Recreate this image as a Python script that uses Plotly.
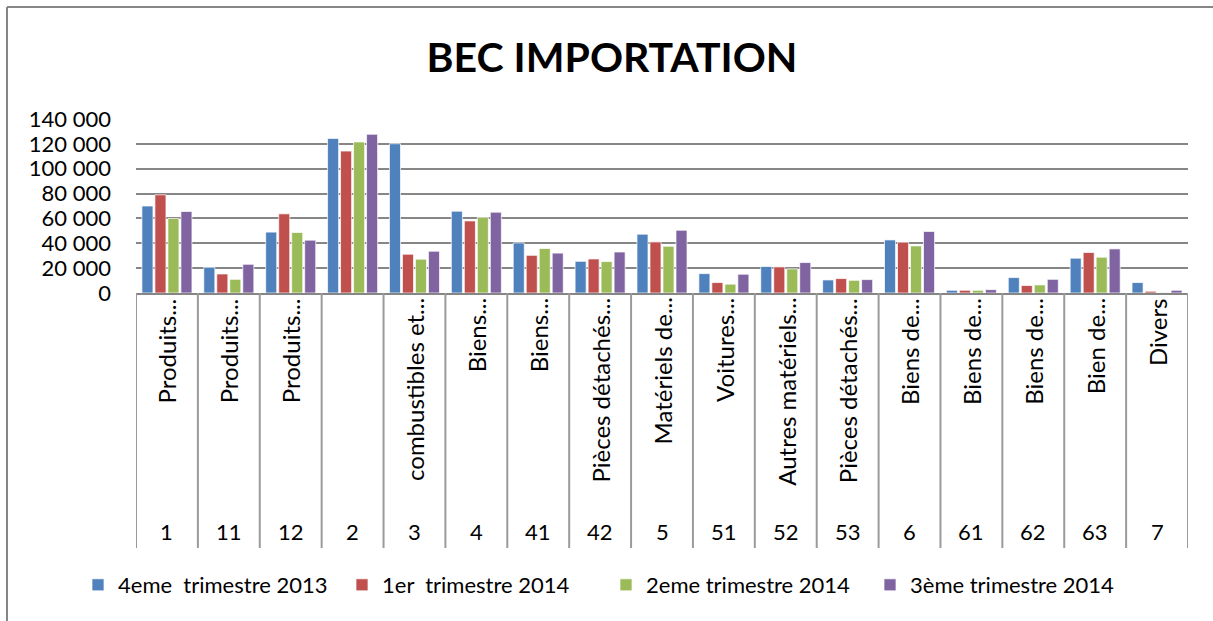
import plotly.graph_objects as go

codes = ["1", "11", "12", "2", "3", "4", "41", "42", "5", "51", "52", "53", "6", "61", "62", "63", "7"]
names = ["Produits...", "Produits...", "Produits...", "", "combustibles et...", "Biens...", "Biens...",
         "Pièces détachés...", "Matériels de...", "Voitures...", "Autres matériels...",
         "Pièces détachés...", "Biens de...", "Biens de...", "Biens de...", "Bien de...", "Divers"]

series_names = ["4eme  trimestre 2013", "1er  trimestre 2014", "2eme trimestre 2014", "3ème trimestre 2014"]
q4_2013 = [70000, 20700, 49000, 124400, 120100, 65800, 40300, 25500, 47300, 15600, 21300, 10500, 42700, 2200, 12400, 28000, 8400]
q1_2014 = [79000, 15300, 63700, 114200, 31200, 58000, 30300, 27400, 41100, 8400, 21000, 11600, 40900, 2200, 6000, 32600, 1400]
q2_2014 = [60000, 11000, 48700, 121500, 27200, 61000, 35800, 25300, 37600, 7100, 19400, 10200, 37900, 2200, 6500, 28800, 300]
q3_2014 = [65600, 23100, 42500, 127700, 33600, 65000, 32100, 33000, 50500, 15100, 24500, 10800, 49500, 2700, 11000, 35500, 2200]
colors = ["#4F81BD", "#C0504D", "#9BBB59", "#8064A2"]

yticks = [0, 20000, 40000, 60000, 80000, 100000, 120000, 140000]
yticktext = ["0", "20 000", "40 000", "60 000", "80 000", "100 000", "120 000", "140 000"]

FONT = "Lato"
W, H = 1213, 621
L, R, T, B = 136, 25, 119, 328
pw, ph = W - L - R, H - T - B


def py(pix):
    return (H - B - pix) / ph


def px(pix):
    return (pix - L) / pw


fig = go.Figure()
for name, vals, c in zip(series_names, [q4_2013, q1_2014, q2_2014, q3_2014], colors):
    fig.add_trace(go.Bar(x=codes, y=vals, name=name,
                         marker=dict(color=c, line=dict(color="rgba(255,255,255,0.7)", width=1))))

annotations = []
shapes = []
for i, (c, n) in enumerate(zip(codes, names)):
    if n:
        annotations.append(dict(x=i, y=py(296), xref="x", yref="paper", text=n, textangle=-90,
                                showarrow=False, xanchor="center", yanchor="top",
                                font=dict(family=FONT, size=24, color="#000")))
    annotations.append(dict(x=i, y=py(531), xref="x", yref="paper", text=c, showarrow=False,
                            xanchor="center", yanchor="middle", font=dict(family=FONT, size=22, color="#000")))
for i in range(len(codes) + 1):
    shapes.append(dict(type="line", xref="x", yref="paper", x0=i - 0.5, x1=i - 0.5,
                       y0=0, y1=py(548), line=dict(color="#9a9a9a", width=2)))
# chart frame
shapes.append(dict(type="line", xref="paper", yref="paper", x0=px(7), x1=px(7), y0=py(7), y1=py(640),
                   line=dict(color="#868686", width=2)))
shapes.append(dict(type="line", xref="paper", yref="paper", x0=px(7), x1=px(1240), y0=py(7), y1=py(7),
                   line=dict(color="#868686", width=2)))

fig.update_layout(
    width=W, height=H,
    margin=dict(l=L, r=R, t=T, b=B, autoexpand=False),
    paper_bgcolor="white", plot_bgcolor="white",
    title=dict(text="<b>BEC IMPORTATION</b>", x=612 / W, xref="container", xanchor="center",
               y=1 - 58 / H, yanchor="middle", font=dict(family=FONT, size=41, color="#000")),
    barmode="group", bargap=0.16, bargroupgap=0.15,
    xaxis=dict(type="category", showticklabels=False, ticks="", showgrid=False,
               showline=True, linecolor="#868686", linewidth=2, range=[-0.5, len(codes) - 0.5]),
    yaxis=dict(range=[0, 140000], tickvals=yticks, ticktext=yticktext, showgrid=True,
               gridcolor="#868686", gridwidth=1.5, zeroline=False, showline=False, ticks="",
               tickfont=dict(family=FONT, size=22, color="#000"), ticklabelstandoff=24),
    legend=dict(orientation="h", xref="container", yref="container", x=78 / W, xanchor="left",
                y=1 - 585 / H, yanchor="middle", entrywidth=219, entrywidthmode="pixels",
                font=dict(family=FONT, size=22, color="#000"), itemwidth=30, traceorder="normal"),
    annotations=annotations, shapes=shapes,
    showlegend=True,
)
fig.write_html("out.html", config={"displayModeBar": False},
               post_script="document.body.style.margin='0px';document.body.style.overflow='hidden';")
